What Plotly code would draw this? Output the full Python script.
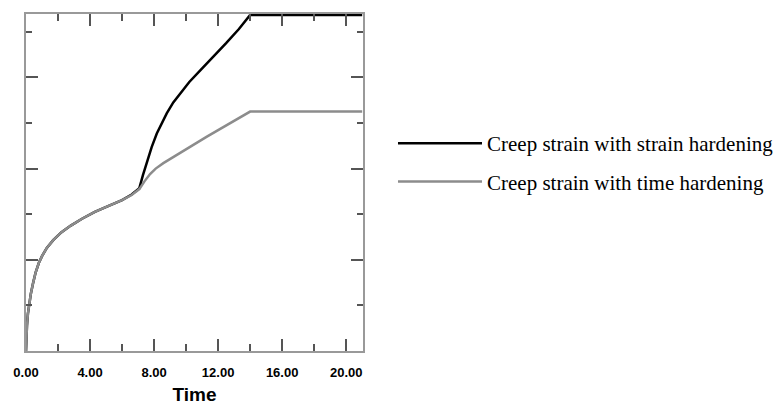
import plotly.graph_objects as go

# Creep strain with strain hardening (black)
strain_t = [0.0, 0.02, 0.06, 0.12, 0.2, 0.3, 0.45, 0.6, 0.8, 1.0, 1.3, 1.7, 2.2, 2.8,
            3.5, 4.3, 5.2, 6.0, 6.6, 7.08,
            7.3, 7.54, 7.85, 8.17, 8.5, 8.79, 9.2, 9.63, 10.2, 10.9, 11.7, 12.5, 13.3,
            14.0, 21.0]
strain_v = [0.0, 0.25, 0.55, 0.82, 1.05, 1.25, 1.5, 1.72, 1.93, 2.08, 2.26, 2.43, 2.6, 2.75,
            2.9, 3.05, 3.19, 3.31, 3.43, 3.57,
            3.85, 4.12, 4.47, 4.77, 5.02, 5.21, 5.45, 5.65, 5.9, 6.16, 6.45, 6.75, 7.06,
            7.37, 7.37]

# Creep strain with time hardening (grey)
time_t = [0.0, 0.02, 0.06, 0.12, 0.2, 0.3, 0.45, 0.6, 0.8, 1.0, 1.3, 1.7, 2.2, 2.8,
          3.5, 4.3, 5.2, 6.0, 6.6, 7.08,
          7.4, 7.75, 8.1, 8.58, 11.3, 14.0, 21.0]
time_v = [0.0, 0.25, 0.55, 0.82, 1.05, 1.25, 1.5, 1.72, 1.93, 2.08, 2.26, 2.43, 2.6, 2.75,
          2.9, 3.05, 3.19, 3.31, 3.42, 3.55,
          3.72, 3.88, 4.0, 4.12, 4.70, 5.25, 5.25]

x_ticks = [0, 4, 8, 12, 16, 20]
x_labels = ["0.00", "4.00", "8.00", "12.00", "16.00", "20.00"]

fig = go.Figure()
fig.add_trace(go.Scatter(x=strain_t, y=strain_v, mode="lines",
                         name="Creep strain with strain hardening",
                         line=dict(color="#000000", width=2.5),
                         legendgroup="a"))
fig.add_trace(go.Scatter(x=time_t, y=time_v, mode="lines",
                         name="Creep strain with time hardening",
                         line=dict(color="#8c8c8c", width=2.5),
                         legendgroup="b"))

fig.update_layout(
    width=776, height=406,
    margin=dict(l=26, r=413, t=14, b=55, autoexpand=False),
    plot_bgcolor="white", paper_bgcolor="white",
    showlegend=True,
    legend=dict(x=1.089, y=0.6766, xanchor="left", yanchor="top",
                traceorder="grouped", tracegroupgap=8, itemwidth=84,
                font=dict(family="Liberation Serif", size=21, color="#000"),
                bgcolor="rgba(0,0,0,0)"),
    xaxis=dict(range=[0, 21.05], tickvals=x_ticks, ticktext=x_labels,
               ticks="inside", ticklen=12, tickwidth=1.5, tickcolor="#555",
               minor=dict(dtick=2, tick0=0, ticks="inside", ticklen=7,
                          tickwidth=1.5, tickcolor="#555"),
               showline=True, linecolor="#999", linewidth=2, mirror="ticks",
               showgrid=False, zeroline=False, automargin=False,
               ticklabelstandoff=8,
               tickfont=dict(family="Liberation Sans", size=13, color="#000", weight="bold"),
               title=dict(text="Time", standoff=9,
                          font=dict(family="Liberation Sans", size=19, color="#000", weight="bold"))),
    yaxis=dict(range=[0, 7.39], dtick=2, tick0=0, showticklabels=False,
               ticks="inside", ticklen=12, tickwidth=1.5, tickcolor="#555",
               minor=dict(dtick=1, tick0=0, ticks="inside", ticklen=6,
                          tickwidth=1.5, tickcolor="#555"),
               showline=True, linecolor="#999", linewidth=2, mirror="ticks",
               showgrid=False, zeroline=False, automargin=False),
)

fig.write_html("out.html")
